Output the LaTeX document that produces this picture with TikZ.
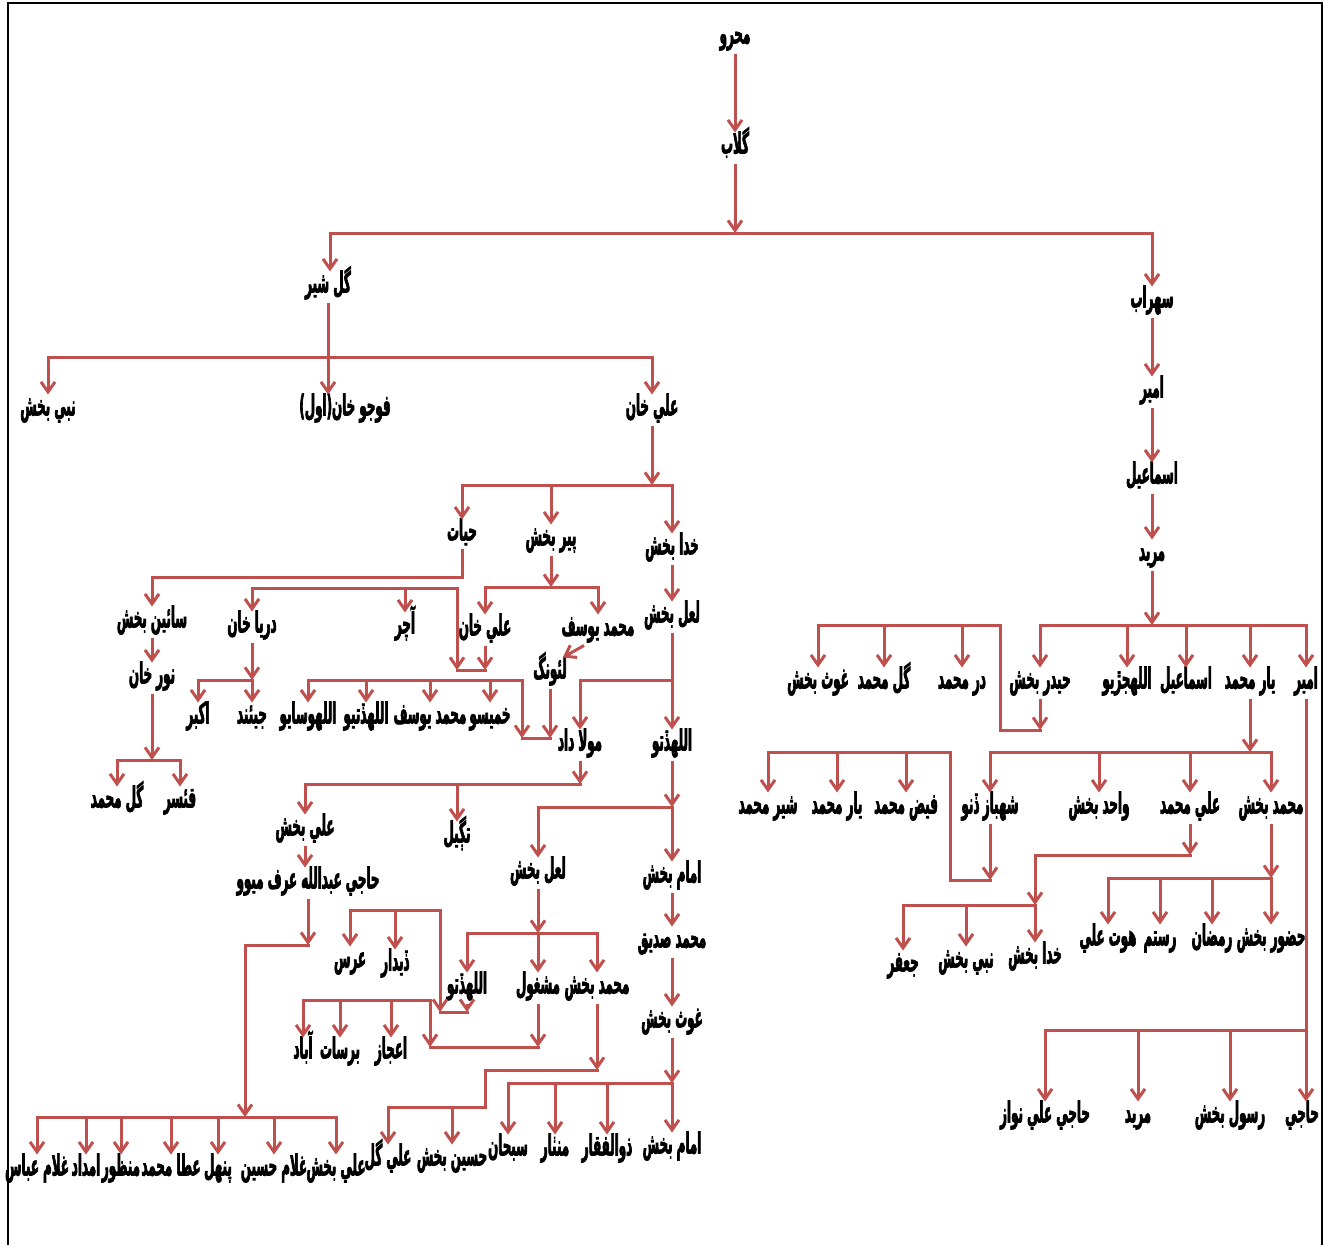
\documentclass[tikz,border=0pt]{standalone}
\usepackage{fontspec}
\usetikzlibrary{arrows.meta}
\TeXXeTstate=1
\newfontfamily\arfont[Script=Arabic,FakeStretch=0.41,FakeBold=2.2]{DejaVu Sans}
\definecolor{lc}{RGB}{192,80,77}
\newcommand{\rl}[1]{\beginR#1\endR}
\newcommand{\drops}[2]{\foreach \k in {#2}{\draw[arr] (#1 -| \k) -- (\k);}}
\begin{document}
\begin{tikzpicture}[x=1pt,y=-1pt,
  lbl/.style={font=\arfont\bfseries\fontsize{29}{31}\selectfont, inner sep=0pt, outer xsep=0pt, outer ysep=2pt, text height=19pt, text depth=8pt},
  arr/.style={draw=lc, line width=3pt, -{Straight Barb[length=10pt,width=14pt]}},
  ln/.style={draw=lc, line width=3pt, line cap=rect},
  frame/.style={draw=black, line width=2pt}]
\useasboundingbox (0,0) rectangle (1329,1245);
\draw[frame] (8,1245) -- (8,3) -- (1322,3) -- (1322,1245);
% ---------- nodes ----------
\node[lbl] (mahro) at (735,38) {\rl{محرو}};
\node[lbl] (gulab) at (735,148) {\rl{گلاب}};
\node[lbl] (gulsher) at (328,287) {\rl{گل شير}};
\node[lbl] (sohrab) at (1152,302) {\rl{سهراب}};
\node[lbl] (amirA) at (1152,392) {\rl{امير}};
\node[lbl] (ismailA) at (1152,478) {\rl{اسماعيل}};
\node[lbl] (muridA) at (1152,555) {\rl{مريد}};
\node[lbl] (nabiA) at (48,410) {\rl{نبي بخش}};
\node[lbl] (fojo) at (345,410) {\rl{فوجو خان(اول)}};
\node[lbl] (alikhanA) at (652,410) {\rl{علي خان}};
\node[lbl] (hayat) at (462,535) {\rl{حيات}};
\node[lbl] (pir) at (551,540) {\rl{پير بخش}};
\node[lbl] (khudaA) at (672,549) {\rl{خدا بخش}};
\node[lbl] (saain) at (152,622) {\rl{سائين بخش}};
\node[lbl] (darya) at (252,627) {\rl{دريا خان}};
\node[lbl] (aachar) at (405,628) {\rl{آچر}};
\node[lbl] (alikhanB) at (485,630) {\rl{علي خان}};
\node[lbl] (mysfA) at (598,630) {\rl{محمد يوسف}};
\node[lbl] (laalA) at (672,617) {\rl{لعل بخش}};
\node[lbl] (lathong) at (550,673) {\rl{لئونگ}};
\node[lbl] (noor) at (152,678) {\rl{نور خان}};
\node[lbl] (akbar) at (198,718) {\rl{اكبر}};
\node[lbl] (jiand) at (252,718) {\rl{جيئند}};
\node[lbl] (wasayo) at (308,718) {\rl{اللهوسايو}};
\node[lbl] (ditio) at (366,718) {\rl{اللهڏتيو}};
\node[lbl] (mysfB) at (430,718) {\rl{محمد يوسف}};
\node[lbl] (khamiso) at (490,718) {\rl{خميسو}};
\node[lbl] (moladad) at (580,745) {\rl{مولا داد}};
\node[lbl] (dittoA) at (672,745) {\rl{اللهڏتو}};
\node[lbl] (gulmA) at (117,802) {\rl{گل محمد}};
\node[lbl] (qaisar) at (180,802) {\rl{قئسر}};
\node[lbl] (alibakhshA) at (305,830) {\rl{علي بخش}};
\node[lbl] (tagil) at (457,837) {\rl{تڳيل}};
\node[lbl] (laalB) at (538,873) {\rl{لعل بخش}};
\node[lbl] (imamA) at (672,877) {\rl{امام بخش}};
\node[lbl] (haji) at (308,883) {\rl{حاجي عبدالله عرف ميوو}};
\node[lbl] (msiddiq) at (672,942) {\rl{محمد صديق}};
\node[lbl] (urs) at (350,962) {\rl{عرس}};
\node[lbl] (didar) at (395,965) {\rl{ڏيدار}};
\node[lbl] (dittoB) at (467,988) {\rl{اللهڏتو}};
\node[lbl] (mashgool) at (538,988) {\rl{مشغول}};
\node[lbl] (mbakhshA) at (597,988) {\rl{محمد بخش}};
\node[lbl] (ghausA) at (672,1022) {\rl{غوث بخش}};
\node[lbl] (abad) at (303,1053) {\rl{آباد}};
\node[lbl] (barsat) at (340,1053) {\rl{برسات}};
\node[lbl] (ijaz) at (391,1053) {\rl{اعجاز}};
\node[lbl] (aligul) at (388,1160) {\rl{علي گل}};
\node[lbl] (husain) at (452,1160) {\rl{حسين بخش}};
\node[lbl] (sobhan) at (508,1150) {\rl{سبحان}};
\node[lbl] (manthar) at (555,1150) {\rl{منٺار}};
\node[lbl] (zulfi) at (607,1150) {\rl{ذوالفقار}};
\node[lbl] (imamB) at (672,1148) {\rl{امام بخش}};
\node[lbl] (ghulama) at (37,1170) {\rl{غلام عباس}};
\node[lbl] (imdad) at (86,1170) {\rl{امداد}};
\node[lbl] (manzoor) at (121,1170) {\rl{منظور}};
\node[lbl] (atam) at (171,1170) {\rl{عطا محمد}};
\node[lbl] (punhal) at (218,1170) {\rl{پنهل}};
\node[lbl] (ghulamh) at (274,1170) {\rl{غلام حسين}};
\node[lbl] (alibakhshB) at (336,1170) {\rl{علي بخش}};
% right side
\node[lbl] (ghausB) at (818,683) {\rl{غوث بخش}};
\node[lbl] (gulmB) at (884,683) {\rl{گل محمد}};
\node[lbl] (durm) at (962,683) {\rl{در محمد}};
\node[lbl] (haidar) at (1040,683) {\rl{حيدر بخش}};
\node[lbl] (jurio) at (1127,683) {\rl{اللهجڙيو}};
\node[lbl] (ismailB) at (1186,683) {\rl{اسماعيل}};
\node[lbl] (yarA) at (1250,683) {\rl{يار محمد}};
\node[lbl] (amirB) at (1306,683) {\rl{امير}};
\node[lbl] (shermd) at (768,808) {\rl{شير محمد}};
\node[lbl] (yarB) at (837,808) {\rl{يار محمد}};
\node[lbl] (faiz) at (906,808) {\rl{فيض محمد}};
\node[lbl] (shahbaz) at (990,808) {\rl{شهباز ڏنو}};
\node[lbl] (wahid) at (1099,808) {\rl{واحد بخش}};
\node[lbl] (alim) at (1190,808) {\rl{علي محمد}};
\node[lbl] (mbakhshB) at (1271,808) {\rl{محمد بخش}};
\node[lbl] (jafar) at (903,966) {\rl{جعفر}};
\node[lbl] (nabiB) at (966,962) {\rl{نبي بخش}};
\node[lbl] (khudaB) at (1035,958) {\rl{خدا بخش}};
\node[lbl] (hoot) at (1108,940) {\rl{هوت علي}};
\node[lbl] (rustam) at (1160,940) {\rl{رستم}};
\node[lbl] (ramzan) at (1212,940) {\rl{رمضان}};
\node[lbl] (huzur) at (1271,940) {\rl{حضور بخش}};
\node[lbl] (hajin) at (1045,1117) {\rl{حاجي علي نواز}};
\node[lbl] (muridB) at (1138,1117) {\rl{مريد}};
\node[lbl] (rasool) at (1230,1117) {\rl{رسول بخش}};
\node[lbl] (hajji) at (1302,1117) {\rl{حاجي}};
% ---------- bus coordinates ----------
\coordinate (b0L) at (330,233);   \coordinate (b0R) at (1152,233);
\coordinate (b1L) at (48,357);    \coordinate (b1R) at (652,357);
\coordinate (b2L) at (462,485);
\coordinate (b3L) at (152,577);   \coordinate (b3R) at (462,577);
\coordinate (b4L) at (252,588);   \coordinate (b4R) at (457,588);  \coordinate (u4) at (457,670);
\coordinate (b5L) at (485,587);
\coordinate (b6L) at (308,680);   \coordinate (b6R) at (522,680);  \coordinate (u6) at (522,738);
\coordinate (b7L) at (580,680);
\coordinate (b8L) at (305,784);
\coordinate (b9L) at (538,807);
\coordinate (b10a) at (245,945);  \coordinate (b10) at (245,1117);
\coordinate (b11L) at (350,910);  \coordinate (b11R) at (440,910); \coordinate (u11) at (440,1012);
\coordinate (b12) at (538,933);
\coordinate (b13L) at (303,1000); \coordinate (u13a) at (430,1000); \coordinate (u13b) at (430,1047);
\coordinate (c14) at (485,1070);  \coordinate (c14b) at (485,1107);
\coordinate (b15) at (152,760);
\coordinate (b16) at (198,680);
\coordinate (b17) at (508,1083);
\coordinate (bR0L) at (818,625);  \coordinate (bR0R) at (1000,625); \coordinate (uR0) at (1000,730);
\coordinate (bR1L) at (1040,625); \coordinate (bR1R) at (1306,625);
\coordinate (bR2L) at (990,752);  \coordinate (bR2R) at (1271,752);
\coordinate (bR2a) at (768,752);  \coordinate (bR2b) at (950,752);  \coordinate (uR2) at (950,880);
\coordinate (bR3) at (1035,855);  \coordinate (bR4) at (1035,905);
\coordinate (bR5) at (1108,878);
\coordinate (bR6) at (1045,1030);
% ---------- top ----------
\draw[arr] (mahro) -- (gulab);
\draw[arr] (gulab) -- (gulab |- b0L);
\draw[ln] (b0L) -- (b0R);
\draw[arr] (b0L) -- (b0L |- gulsher.north);
\draw[arr] (b0R) -- (sohrab);
% ---------- right ----------
\draw[arr] (sohrab) -- (amirA);
\draw[arr] (amirA) -- (ismailA);
\draw[arr] (ismailA) -- (muridA);
\draw[arr] (muridA) -- (muridA |- bR1L);
\draw[ln] (bR1L) -- (bR1R);
\drops{bR1L}{haidar,jurio,ismailB,yarA,amirB}
\draw[ln] (bR0L) -- (bR0R) -- (uR0) -- (uR0 -| haidar);
\drops{bR0L}{ghausB,gulmB,durm}
\draw[arr] (haidar) -- (haidar |- uR0);
\draw[arr] (yarA) -- (yarA |- bR2L);
\draw[ln] (bR2L) -- (bR2R);
\drops{bR2L}{shahbaz,wahid,alim,mbakhshB}
\draw[ln] (bR2a) -- (bR2b) -- (uR2) -- (uR2 -| shahbaz);
\drops{bR2a}{shermd,yarB,faiz}
\draw[arr] (shahbaz) -- (shahbaz |- uR2);
\draw[arr] (alim) -- (alim |- bR3);
\draw[ln] (alim |- bR3) -- (bR3);
\draw[arr] (bR3) -- (bR4);
\draw[ln] (jafar |- bR4) -- (bR4);
\drops{bR4}{jafar,nabiB,khudaB}
\draw[arr] (mbakhshB) -- (mbakhshB |- bR5);
\draw[ln] (bR5) -- (mbakhshB |- bR5);
\drops{bR5}{hoot,rustam,ramzan,huzur}
\draw[arr] (amirB) -- (amirB |- hajji.north);
\draw[ln] (bR6) -- (amirB |- bR6);
\drops{bR6}{hajin,muridB,rasool}
% ---------- left ----------
\draw[ln] (b1L) -- (b1R);
\draw[arr] (gulsher) -- (gulsher |- fojo.north);
\drops{b1L}{nabiA,alikhanA}
\draw[arr] (alikhanA) -- (alikhanA |- b2L);
\draw[ln] (b2L) -- (khudaA |- b2L);
\drops{b2L}{hayat,pir,khudaA}
\draw[ln] (hayat) -- (b3R) -- (b3L);
\draw[arr] (b3L) -- (saain);
\draw[arr] (saain) -- (noor);
\draw[arr] (noor) -- (b15);
\draw[ln] (b15 -| gulmA) -- (b15 -| qaisar);
\drops{b15}{gulmA,qaisar}
\draw[ln] (b4L) -- (b4R);
\drops{b4L}{darya,aachar}
\draw[arr] (b4R) -- (u4);
\draw[ln] (u4) -- (u4 -| alikhanB);
\draw[arr] (alikhanB) -- (alikhanB |- u4);
\draw[arr] (pir) -- (pir |- b5L);
\draw[ln] (b5L) -- (mysfA |- b5L);
\drops{b5L}{alikhanB,mysfA}
\draw[arr] ([xshift=-14pt]mysfA.south) -- ([xshift=-4pt]lathong.north east);
\draw[arr] (darya) -- (darya |- b16);
\draw[ln] (b16) -- (darya |- b16);
\drops{b16}{akbar,jiand}
\draw[ln] (b6L) -- (b6R);
\drops{b6L}{wasayo,ditio,mysfB,khamiso}
\draw[arr] (b6R) -- (u6);
\draw[ln] (u6) -- (u6 -| lathong);
\draw[arr] (lathong) -- (lathong |- u6);
\draw[arr] (khudaA) -- (laalA);
\draw[arr] (laalA) -- (dittoA);
\draw[ln] (b7L) -- (laalA |- b7L);
\drops{b7L}{moladad}
\draw[arr] (moladad) -- (moladad |- b8L);
\draw[ln] (b8L) -- (moladad |- b8L);
\drops{b8L}{alibakhshA,tagil}
\draw[arr] (dittoA) -- (dittoA |- b9L);
\draw[ln] (b9L) -- (dittoA |- b9L);
\drops{b9L}{laalB,imamA}
\draw[arr] (alibakhshA) -- (alibakhshA |- haji.north);
\draw[arr] (haji) -- (haji |- b10a);
\draw[ln] (haji |- b10a) -- (b10a);
\draw[arr] (b10a) -- (b10);
\draw[ln] (b10 -| ghulama) -- (b10 -| alibakhshB);
\drops{b10}{ghulama,imdad,manzoor,atam,punhal,ghulamh,alibakhshB}
\draw[ln] (b11L) -- (b11R);
\drops{b11L}{urs,didar}
\draw[arr] (b11R) -- (u11);
\draw[ln] (u11) -- (u11 -| dittoB);
\draw[arr] (dittoB) -- (dittoB |- u11);
\draw[arr] (laalB) -- (laalB |- b12);
\draw[ln] (dittoB |- b12) -- (mbakhshA |- b12);
\drops{b12}{dittoB,mashgool,mbakhshA}
\draw[ln] (b13L) -- (u13a);
\drops{b13L}{abad,barsat,ijaz}
\draw[arr] (u13a) -- (u13b);
\draw[ln] (u13b) -- (u13b -| mashgool);
\draw[arr] (mashgool) -- (mashgool |- u13b);
\draw[arr] (mbakhshA) -- (mbakhshA |- c14);
\draw[ln] (mbakhshA |- c14) -- (c14) -- (c14b) -- (c14b -| aligul);
\drops{c14b}{aligul,husain}
\draw[arr] (imamA) -- (msiddiq);
\draw[arr] (msiddiq) -- (ghausA);
\draw[arr] (ghausA) -- (ghausA |- b17);
\draw[ln] (b17) -- (ghausA |- b17);
\drops{b17}{sobhan,manthar,zulfi,imamB}
\end{tikzpicture}
\end{document}
